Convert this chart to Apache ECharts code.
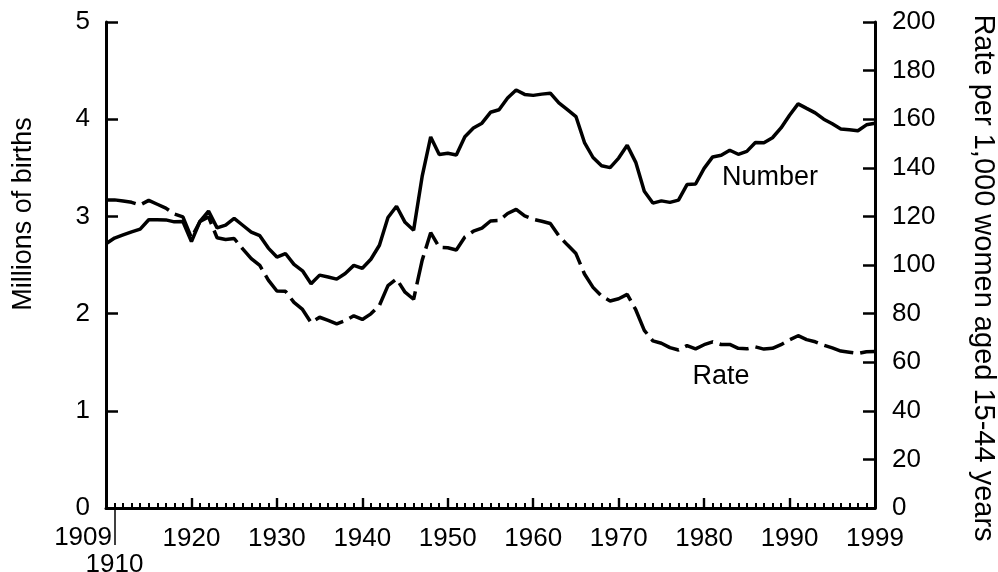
<!DOCTYPE html>
<html><head><meta charset="utf-8">
<script src="https://cdn.jsdelivr.net/npm/echarts@6/dist/echarts.min.js"></script>
<style>html,body{margin:0;padding:0;background:#fff}#c{width:998px;height:572px}</style>
</head><body><div id="c"></div>
<script>
const years = ['1909','1910','1911','1912','1913','1914','1915','1916','1917','1918',
 '1919','1920','1921','1922','1923','1924','1925','1926','1927','1928',
 '1929','1930','1931','1932','1933','1934','1935','1936','1937','1938',
 '1939','1940','1941','1942','1943','1944','1945','1946','1947','1948',
 '1949','1950','1951','1952','1953','1954','1955','1956','1957','1958',
 '1959','1960','1961','1962','1963','1964','1965','1966','1967','1968',
 '1969','1970','1971','1972','1973','1974','1975','1976','1977','1978',
 '1979','1980','1981','1982','1983','1984','1985','1986','1987','1988',
 '1989','1990','1991','1992','1993','1994','1995','1996','1997','1998','1999'];
// Millions of births
const births = [2.718,2.777,2.809,2.840,2.869,2.966,2.965,2.964,2.944,2.948,
 2.740,2.950,3.055,2.882,2.910,2.979,2.909,2.839,2.802,2.674,
 2.582,2.618,2.506,2.440,2.307,2.396,2.377,2.355,2.413,2.496,
 2.466,2.559,2.703,2.989,3.104,2.939,2.858,3.411,3.817,3.637,
 3.649,3.632,3.820,3.909,3.959,4.071,4.097,4.218,4.300,4.255,
 4.245,4.258,4.268,4.167,4.098,4.027,3.760,3.606,3.521,3.502,
 3.600,3.731,3.556,3.258,3.137,3.160,3.144,3.168,3.327,3.333,
 3.494,3.612,3.629,3.681,3.639,3.669,3.761,3.757,3.809,3.910,
 4.041,4.158,4.111,4.065,4.000,3.953,3.900,3.891,3.881,3.942,3.959];
// Rate per 1,000 women aged 15-44
const rate = [126.8,126.8,126.3,125.8,124.7,126.6,125.0,123.4,121.0,119.8,
 111.2,117.9,119.8,111.2,110.5,110.9,106.6,102.6,99.8,93.8,
 89.3,89.2,84.6,81.7,76.3,78.5,77.2,75.8,77.1,79.1,
 77.6,79.9,83.4,91.5,94.3,88.8,85.9,101.9,113.3,107.3,
 107.1,106.2,111.5,113.9,115.2,118.1,118.3,121.2,122.9,120.2,
 118.8,118.0,117.1,112.0,108.3,104.7,96.3,90.8,87.2,85.2,
 86.1,87.9,81.6,73.1,68.8,67.8,66.0,65.0,66.8,65.5,
 67.2,68.4,67.3,67.3,65.7,65.5,66.3,65.4,65.7,67.2,
 69.2,70.9,69.3,68.4,67.0,65.9,64.6,64.1,63.6,64.3,64.4];
// x tick labels shown at every 10th year position
const xTickLabels = ['', '1920','1930','1940','1950','1960','1970','1980','1990','1999'];
const firstYearLabel = '1909';
const secondYearLabel = '1910';
const leftTitle = 'Millions of births';
const rightTitle = 'Rate per 1,000 women aged 15-44 years';
const seriesNames = ['Number', 'Rate'];

const FONT = "'Liberation Sans', Arial, Helvetica, sans-serif";
const chart = echarts.init(document.getElementById('c'), null, {renderer: 'canvas'});
const black = '#000';
const labelStyle = {color: black, fontSize: 26, fontFamily: FONT};

chart.setOption({
  animation: false,
  backgroundColor: '#fff',
  grid: {left: 106, right: 123, top: 22, bottom: 64, containLabel: false, outerBoundsMode: 'none'},
  xAxis: [
    {type: 'category', data: years, boundaryGap: false, position: 'bottom',
     axisLine: {show: true, onZero: false, lineStyle: {color: black, width: 3}},
     axisTick: {show: true, inside: true, length: 5, interval: 0, lineStyle: {color: black, width: 2}},
     axisLabel: {show: false}, splitLine: {show: false}},
    {type: 'category', data: years, boundaryGap: false, position: 'bottom',
     axisLine: {show: false, onZero: false},
     axisTick: {show: true, inside: true, length: 10, interval: (i) => i % 10 === 0 && i > 0 && i < 90,
                lineStyle: {color: black, width: 2.4}},
     axisLabel: Object.assign({interval: (i) => i % 10 === 0 && i > 0, margin: 18,
                formatter: (v, i) => xTickLabels[Math.round(i / 10)]}, labelStyle),
     splitLine: {show: false}},
    {type: 'category', data: years, boundaryGap: false, position: 'bottom',
     axisLine: {show: false, onZero: false},
     axisTick: {show: true, inside: false, length: 37, interval: (i) => i === 1,
                lineStyle: {color: black, width: 1.5}},
     axisLabel: Object.assign({interval: (i) => i === 1, margin: 44,
                formatter: () => secondYearLabel}, labelStyle),
     splitLine: {show: false}}
  ],
  yAxis: [
    {type: 'value', min: 0, max: 5, interval: 1, position: 'left',
     axisLine: {show: true, onZero: false, lineStyle: {color: black, width: 3}},
     axisTick: {show: true, inside: true, length: 12, lineStyle: {color: black, width: 2.5}},
     axisLabel: Object.assign({margin: 16}, labelStyle), splitLine: {show: false}},
    {type: 'value', min: 0, max: 200, interval: 20, position: 'right',
     axisLine: {show: true, onZero: false, lineStyle: {color: black, width: 3}},
     axisTick: {show: true, inside: true, length: 12, lineStyle: {color: black, width: 2.5}},
     axisLabel: Object.assign({margin: 17}, labelStyle), splitLine: {show: false}}
  ],
  series: [
    {name: seriesNames[0], type: 'line', xAxisIndex: 0, yAxisIndex: 0, data: births,
     symbol: 'none', lineStyle: {color: black, width: 3.5}, z: 3},
    {name: seriesNames[1], type: 'line', xAxisIndex: 0, yAxisIndex: 1, data: rate,
     symbol: 'none', lineStyle: {color: black, width: 3.5, type: [30, 7]}, z: 3}
  ]
});

const p0 = chart.convertToPixel({xAxisIndex: 0, yAxisIndex: 0}, [0, 0]);
chart.setOption({
  graphic: [
    {type: 'text', x: p0[0] + 6, y: p0[1] + 30, style: {text: firstYearLabel, fill: black, fontSize: 26, fontFamily: FONT, align: 'right', verticalAlign: 'middle'}},
    {type: 'text', x: 24, y: 214, rotation: Math.PI / 2, style: {text: leftTitle, fill: black, fontSize: 27, fontFamily: FONT, align: 'center', verticalAlign: 'middle'}},
    {type: 'text', x: 983, y: 278, rotation: -Math.PI / 2, style: {text: rightTitle, fill: black, fontSize: 29, fontFamily: FONT, align: 'center', verticalAlign: 'middle'}},
    {type: 'text', x: 770, y: 178, style: {text: seriesNames[0], fill: black, fontSize: 27, fontFamily: FONT, align: 'center', verticalAlign: 'middle'}},
    {type: 'text', x: 721, y: 377, style: {text: seriesNames[1], fill: black, fontSize: 27, fontFamily: FONT, align: 'center', verticalAlign: 'middle'}}
  ]
});
</script></body></html>
